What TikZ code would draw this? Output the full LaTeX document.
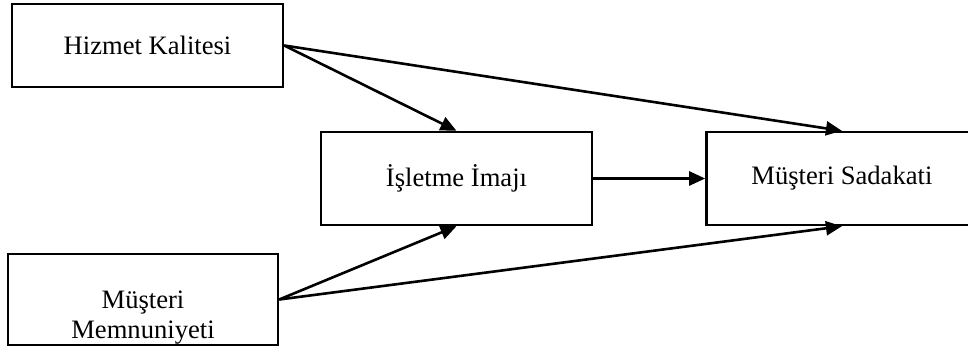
\documentclass[tikz,border=0pt]{standalone}
\usepackage{fontspec}
\setmainfont{Liberation Serif}
\usetikzlibrary{arrows.meta,positioning}

\begin{document}
\begin{tikzpicture}[
    x=0.5pt, y=-0.5pt,
    box/.style={draw, line width=1.2pt, fill=white, inner sep=0pt, minimum width=135.5pt, minimum height=46.5pt, font=\fontsize{13.3}{15}\selectfont, align=center},
    link/.style={->, line width=1.3pt},
    >={Triangle[length=8pt, width=7pt]}
]
\useasboundingbox (0,0) rectangle (968,349);
\node[box, minimum height=41.5pt] (hizmet) at (147.5,45.5) {Hizmet Kalitesi};
\node[box] (imaj) at (456.5,178.5) {İşletme İmajı};
\node[box, right=56pt of imaj] (sadakat) {Müşteri Sadakati};
\node[box, minimum width=135pt, minimum height=45.5pt] (memnun) at (143,299.5) {\rule{0pt}{27pt}Müşteri\\Memnuniyeti};
\draw[link] (hizmet.east) -- (imaj.north);
\draw[link] (hizmet.east) -- (sadakat.north);
\draw[link] (imaj.east) -- (sadakat.west);
\draw[link] (memnun.east) -- (imaj.south);
\draw[link] (memnun.east) -- (sadakat.south);
\end{tikzpicture}
\end{document}
